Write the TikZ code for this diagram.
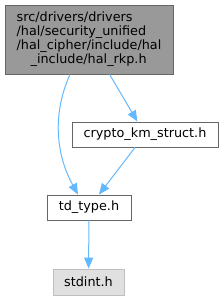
\documentclass[tikz,border=0pt]{standalone}
\usepackage{fontspec}
\setmainfont{DejaVu Sans}
\usetikzlibrary{arrows.meta}
\definecolor{edgeblue}{HTML}{63B8FF}
\definecolor{boxgray}{HTML}{666666}
\begin{document}
\begin{tikzpicture}
  [x=1pt,y=-1pt,
   every node/.style={draw=boxgray,line width=0.9pt,fill=white,inner sep=0pt,
     font=\fontsize{12.8}{14}\selectfont},
   edge/.style={draw=edgeblue,line width=1pt,-{Triangle[length=11pt,width=9pt]}}]
  \useasboundingbox (0,0) rectangle (224,300);
  % Cajas de los ficheros
  \node (rkp) at (89,39.5) [fill=black!40,minimum width=168pt,minimum height=69pt,align=left]
    {src/drivers/drivers\\/hal/security\_unified\\/hal\_cipher/include/hal\\\hspace*{14pt}\_include/hal\_rkp.h};
  \node (km) at (145,134.5) [minimum width=146pt,minimum height=25pt] {crypto\_km\_struct.h};
  \node (td) at (89,207.5) [minimum width=84pt,minimum height=25pt] {td\_type.h};
  \node (std) at (88.5,282) [draw=black!25,fill=black!12,minimum width=71pt,minimum height=26pt] {stdint.h};

  % Dependencias
  \draw[edge] ([xshift=-19pt]rkp.south) .. controls +(-18,40) and +(-22,-40) .. ([xshift=-11pt]td.north);
  \foreach \from/\to in {rkp/km, km/td, td/std}
    \draw[edge] (\from) -- (\to);
\end{tikzpicture}
\end{document}
